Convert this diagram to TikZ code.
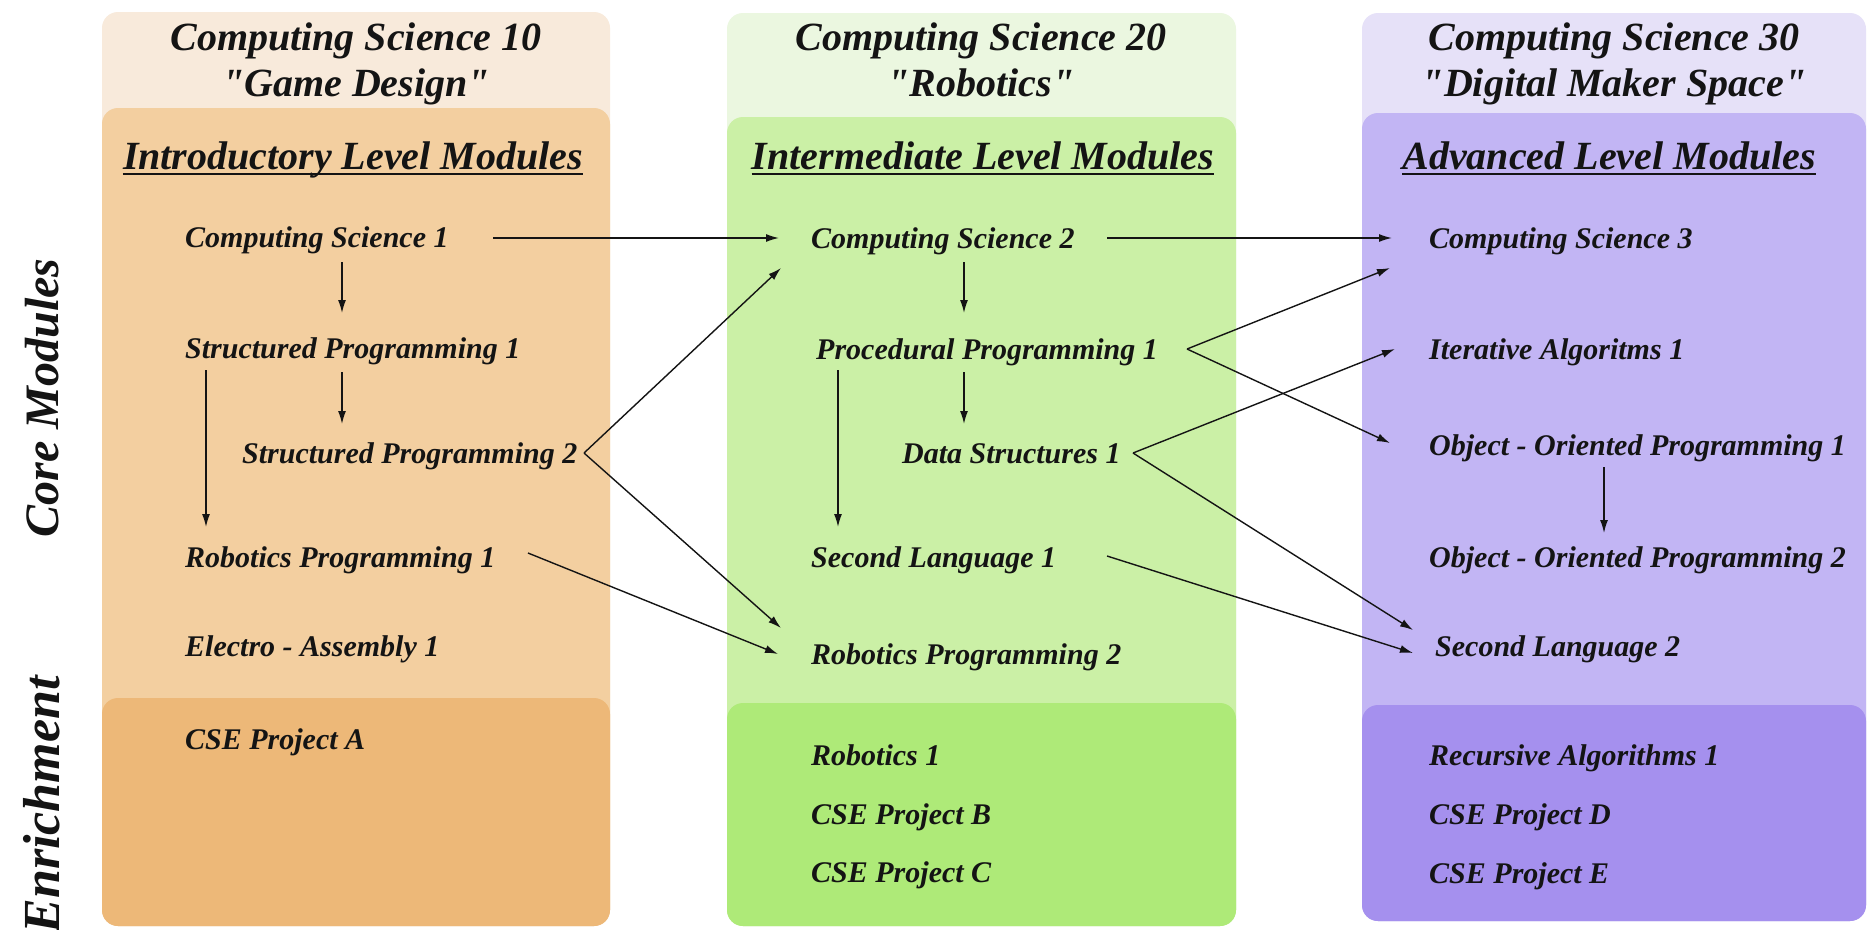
\documentclass[tikz,border=0pt]{standalone}
\usepackage{fontspec}
\setmainfont{Liberation Serif}[Ligatures=TeXOff]
\usetikzlibrary{arrows.meta}
\definecolor{tanlight}{HTML}{F8EADB}
\definecolor{tanmid}{HTML}{F3CFA0}
\definecolor{tandark}{HTML}{EDB878}
\definecolor{grnlight}{HTML}{EBF7E0}
\definecolor{grnmid}{HTML}{CBF0A6}
\definecolor{grndark}{HTML}{AEEA78}
\definecolor{purlight}{HTML}{E6E1F8}
\definecolor{purmid}{HTML}{C2B5F4}
\definecolor{purdark}{HTML}{A590EE}
\definecolor{ink}{HTML}{141414}
\begin{document}
\begin{tikzpicture}[x=1pt,y=-1pt,
  panel/.style={rounded corners=16pt},
  mod/.style={anchor=base west,inner sep=0pt,text=ink,
    font=\fontsize{30}{36}\selectfont\bfseries\itshape},
  hdr/.style={anchor=base,inner sep=0pt,text=ink,
    font=\fontsize{40}{47}\selectfont\bfseries\itshape},
  side/.style={rotate=90,inner sep=0pt,text=ink,
    font=\fontsize{52}{60}\selectfont\bfseries\itshape},
  uline/.style={line width=2.2pt,draw=ink},
  link/.style={line width=1.4pt,draw=ink,-{Latex[length=13pt,width=8pt]}}]
\useasboundingbox (0,0) rectangle (1870,929);
\fill[white] (0,0) rectangle (1870,929);

% column backgrounds
\fill[tanlight,panel] (102,12) rectangle (610,926);
\fill[tanmid,panel]   (102,108) rectangle (610,926);
\fill[tandark,panel]  (102,698) rectangle (610,926);

\fill[grnlight,panel] (727,13) rectangle (1236,926);
\fill[grnmid,panel]   (727,117) rectangle (1236,926);
\fill[grndark,panel]  (727,703) rectangle (1236,926);

\fill[purlight,panel] (1362,13) rectangle (1866,921);
\fill[purmid,panel]   (1362,113) rectangle (1866,921);
\fill[purdark,panel]  (1362,705) rectangle (1866,921);

% side labels
\node[side,anchor=base,font=\fontsize{48}{56}\selectfont\bfseries\itshape] (core) at (58,398) {Core Modules};
\node[side,anchor=base east] (enrich) at (59,676) {Enrichment};

% course titles
\node[hdr] (t10a) at (356,50) {Computing Science 10};
\node[hdr] (t10b) at (356,96) {"Game Design"};
\node[hdr] (t20a) at (981,50) {Computing Science 20};
\node[hdr] (t20b) at (981,96) {"Robotics"};
\node[hdr] (t30a) at (1614,50) {Computing Science 30};
\node[hdr] (t30b) at (1614,96) {"Digital Maker Space"};

% level headings
\node[hdr] (lv1) at (353,169) {Introductory Level Modules};
\node[hdr] (lv2) at (983,169) {Intermediate Level Modules};
\node[hdr] (lv3) at (1609,169) {Advanced Level Modules};
\draw[uline] ([yshift=-5pt]lv1.base west) -- ([yshift=-5pt]lv1.base east);
\draw[uline] ([yshift=-5pt]lv2.base west) -- ([yshift=-5pt]lv2.base east);
\draw[uline] ([yshift=-5pt]lv3.base west) -- ([yshift=-5pt]lv3.base east);

% introductory modules
\node[mod] (cs1) at (185,247) {Computing Science 1};
\node[mod] (sp1) at (185,358) {Structured Programming 1};
\node[mod] (sp2) at (242,463) {Structured Programming 2};
\node[mod] (rp1) at (185,567) {Robotics Programming 1};
\node[mod] (ea1) at (185,656) {Electro - Assembly 1};
\node[mod] (cpa) at (185,749) {CSE Project A};

% intermediate modules
\node[mod] (cs2) at (811,248) {Computing Science 2};
\node[mod] (pp1) at (816,359) {Procedural Programming 1};
\node[mod] (ds1) at (902,463) {Data Structures 1};
\node[mod] (sl1) at (811,567) {Second Language 1};
\node[mod] (rp2) at (811,664) {Robotics Programming 2};
\node[mod] (rob1) at (811,765) {Robotics 1};
\node[mod] (cpb) at (811,824) {CSE Project B};
\node[mod] (cpc) at (811,882) {CSE Project C};

% advanced modules
\node[mod] (cs3) at (1429,248) {Computing Science 3};
\node[mod] (ia1) at (1429,359) {Iterative Algoritms 1};
\node[mod] (oop1) at (1429,455) {Object - Oriented Programming 1};
\node[mod] (oop2) at (1429,567) {Object - Oriented Programming 2};
\node[mod] (sl2) at (1435,656) {Second Language 2};
\node[mod] (ra1) at (1429,765) {Recursive Algorithms 1};
\node[mod] (cpd) at (1429,824) {CSE Project D};
\node[mod] (cpe) at (1429,883) {CSE Project E};

% connector end points
\coordinate (cs1o) at (493,238);  \coordinate (cs2w) at (779,238);
\coordinate (cs1s) at (342,262);  \coordinate (sp1n) at (342,313);
\coordinate (sp1s) at (342,372);  \coordinate (sp2n) at (342,424);
\coordinate (sp1l) at (206,370);  \coordinate (rp1n) at (206,527);
\coordinate (sp2o) at (584,453);
\coordinate (cs2sw) at (781,268); \coordinate (rp2nw) at (781,628);
\coordinate (rp1o) at (528,553);  \coordinate (rp2w) at (778,654);
\coordinate (cs2o) at (1107,238); \coordinate (cs3w) at (1392,238);
\coordinate (cs2s) at (964,262);  \coordinate (pp1n) at (964,313);
\coordinate (pp1s) at (964,372);  \coordinate (ds1n) at (964,424);
\coordinate (pp1l) at (838,370);  \coordinate (sl1n) at (838,527);
\coordinate (pp1o) at (1187,349);
\coordinate (cs3sw) at (1390,268); \coordinate (oop1w) at (1390,443);
\coordinate (ds1o) at (1133,453);
\coordinate (ia1w) at (1395,349); \coordinate (sl2nw) at (1413,630);
\coordinate (sl1o) at (1107,556); \coordinate (sl2w) at (1413,653);
\coordinate (oop1s) at (1604,467); \coordinate (oop2n) at (1604,533);

% prerequisites
\draw[link] (cs1o) -- (cs2w);
\draw[link] (cs1s) -- (sp1n);
\draw[link] (sp1s) -- (sp2n);
\draw[link] (sp1l) -- (rp1n);
\draw[link] (sp2o) -- (cs2sw);
\draw[link] (sp2o) -- (rp2nw);
\draw[link] (rp1o) -- (rp2w);
\draw[link] (cs2o) -- (cs3w);
\draw[link] (cs2s) -- (pp1n);
\draw[link] (pp1s) -- (ds1n);
\draw[link] (pp1l) -- (sl1n);
\draw[link] (pp1o) -- (cs3sw);
\draw[link] (pp1o) -- (oop1w);
\draw[link] (ds1o) -- (ia1w);
\draw[link] (ds1o) -- (sl2nw);
\draw[link] (sl1o) -- (sl2w);
\draw[link] (oop1s) -- (oop2n);
\end{tikzpicture}
\end{document}
